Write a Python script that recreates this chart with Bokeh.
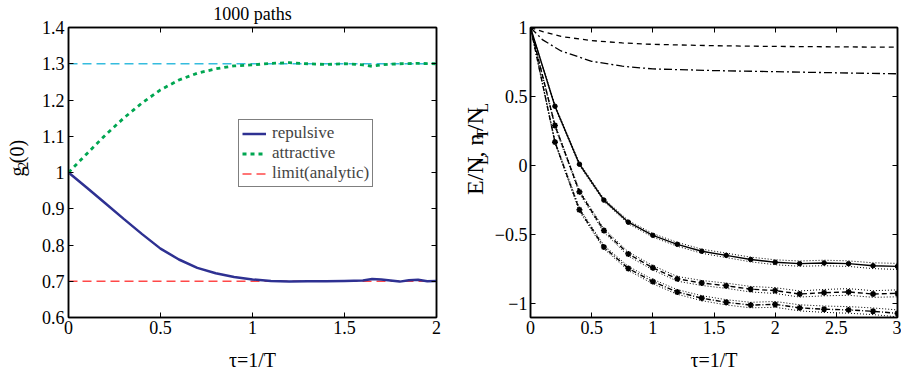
import math
from bokeh.plotting import figure
from bokeh.layouts import row
from bokeh.core.properties import value
from bokeh.models import (Range1d, FixedTicker, LinearAxis, Legend,
                          LegendItem, CustomJSTickFormatter)
from bokeh.embed import file_html
from bokeh.resources import INLINE

FONT = "Liberation Serif"
H = 370

# ---------------- left panel data ----------------
rep_x = [0, 0.1, 0.2, 0.3, 0.4, 0.5, 0.6, 0.7, 0.8, 0.9, 1.0, 1.1, 1.2, 1.3,
         1.4, 1.5, 1.6, 1.65, 1.7, 1.75, 1.8, 1.85, 1.9, 1.95, 2.0]
rep_y = [1.0, 0.958, 0.915, 0.872, 0.830, 0.790, 0.760, 0.737, 0.722, 0.712,
         0.705, 0.701, 0.699, 0.700, 0.700, 0.701, 0.702, 0.706, 0.705, 0.702,
         0.699, 0.703, 0.704, 0.700, 0.701]
att_x = [0, 0.1, 0.2, 0.3, 0.4, 0.5, 0.6, 0.7, 0.8, 0.9, 1.0, 1.1, 1.2, 1.3,
         1.4, 1.5, 1.6, 1.65, 1.7, 1.8, 1.9, 2.0]
att_y = [1.0, 1.052, 1.103, 1.150, 1.192, 1.228, 1.255, 1.274, 1.286, 1.294,
         1.297, 1.301, 1.303, 1.300, 1.298, 1.300, 1.297, 1.293, 1.297, 1.300,
         1.301, 1.300]
lim_x = [0, 2]
lim_att = [1.3, 1.3]
lim_rep = [0.7, 0.7]

left_xticks = [0, 0.5, 1, 1.5, 2]
left_xlabels = ["0", "0.5", "1", "1.5", "2"]
left_yticks = [0.6, 0.7, 0.8, 0.9, 1.0, 1.1, 1.2, 1.3, 1.4]
left_ylabels = ["0.6", "0.7", "0.8", "0.9", "1", "1.1", "1.2", "1.3", "1.4"]

# ---------------- right panel data ----------------
tau = [0, 0.2, 0.4, 0.6, 0.8, 1.0, 1.2, 1.4, 1.6, 1.8, 2.0, 2.2, 2.4, 2.6, 2.8, 3.0]
e_solid = [1.0, 0.43, 0.01, -0.25, -0.41, -0.505, -0.57, -0.62, -0.65, -0.68,
           -0.70, -0.71, -0.705, -0.71, -0.725, -0.73]
e_solid_err = [0, 0.008, 0.01, 0.01, 0.012, 0.013, 0.014, 0.015, 0.016, 0.017,
               0.018, 0.019, 0.02, 0.02, 0.021, 0.022]
e_mid = [1.0, 0.29, -0.19, -0.47, -0.64, -0.74, -0.82, -0.85, -0.87, -0.895,
         -0.905, -0.93, -0.92, -0.915, -0.93, -0.925]
e_mid_err = [0, 0.01, 0.012, 0.013, 0.015, 0.016, 0.017, 0.018, 0.019, 0.02,
             0.021, 0.022, 0.023, 0.024, 0.024, 0.025]
e_low = [1.0, 0.17, -0.32, -0.59, -0.745, -0.84, -0.915, -0.96, -0.99, -1.01,
         -1.005, -1.03, -1.04, -1.045, -1.055, -1.07]
e_low_err = [0, 0.01, 0.012, 0.013, 0.015, 0.016, 0.017, 0.018, 0.019, 0.02,
             0.021, 0.022, 0.023, 0.024, 0.024, 0.025]

n_x = [0, 0.1, 0.25, 0.5, 0.75, 1.0, 1.5, 2.0, 2.5, 3.0]
n_dash = [1.0, 0.97, 0.935, 0.905, 0.888, 0.878, 0.868, 0.863, 0.86, 0.857]
n_dashdot = [1.0, 0.91, 0.83, 0.755, 0.72, 0.70, 0.688, 0.68, 0.672, 0.665]

right_xticks = [0, 0.5, 1, 1.5, 2, 2.5, 3]
right_xlabels = ["0", "0.5", "1", "1.5", "2", "2.5", "3"]
right_yticks = [-1, -0.5, 0, 0.5, 1]
right_ylabels = ["\u22121", "\u22120.5", "0", "0.5", "1"]

# Times-like advance widths (em) used to set the label pieces side by side
ADV = {"E": 0.611, "/": 0.278, "N": 0.722, "L": 0.611, ",": 0.25, " ": 0.25,
       "n": 0.5, "T": 0.611, "g": 0.5, "2": 0.5, "(": 0.333, "0": 0.5, ")": 0.333}


def blank_axis(ticks, label=None):
    ax = LinearAxis(ticker=FixedTicker(ticks=ticks),
                    formatter=CustomJSTickFormatter(code="return ''"),
                    major_tick_in=5, major_tick_out=0, minor_tick_line_color=None,
                    major_label_standoff=0, major_label_text_color=None,
                    major_label_text_font_size="1px", axis_line_width=1.5)
    if label:
        ax.axis_label = label
        ax.axis_label_text_font = FONT
        ax.axis_label_text_font_style = "normal"
        ax.axis_label_text_font_size = "18px"
        ax.axis_label_text_color = "black"
        ax.axis_label_standoff = 4
    return ax


def make_panel(xr, yr, xt, xl, yt, yl, border_left, border_right, ystand, title=None):
    p = figure(frame_width=xr[2], frame_height=290, output_backend="svg",
               toolbar_location=None, x_range=Range1d(xr[0], xr[1]),
               y_range=Range1d(yr[0], yr[1]),
               min_border_left=border_left, min_border_right=border_right,
               min_border_top=26, min_border_bottom=H - 26 - 290)
    p.outline_line_color = "black"
    p.outline_line_width = 1.5
    p.xgrid.visible = False
    p.ygrid.visible = False
    bx = p.xaxis[0]
    by = p.yaxis[0]
    for ax in (bx, by):
        ax.major_tick_in = 5
        ax.major_tick_out = 0
        ax.minor_tick_line_color = None
        ax.axis_line_width = 1.5
        ax.major_tick_line_width = 1
        ax.major_label_text_font = FONT
        ax.major_label_text_font_size = "18px"
        ax.major_label_text_color = "black"
    bx.ticker = FixedTicker(ticks=xt)
    bx.major_label_overrides = dict(zip(xt, xl))
    bx.major_label_standoff = 3
    by.ticker = FixedTicker(ticks=yt)
    by.major_label_overrides = dict(zip(yt, yl))
    by.major_label_standoff = ystand
    bx.axis_label = "\u03c4=1/T"
    bx.axis_label_text_font = FONT
    bx.axis_label_text_font_style = "normal"
    bx.axis_label_text_font_size = "20px"
    bx.axis_label_text_color = "black"
    bx.axis_label_standoff = 12
    p.add_layout(blank_axis(xt, title), "above")
    p.add_layout(blank_axis(yt), "right")
    return p


def label_strip(width, pieces, center_x, start_y):
    # pieces: (text, font px, shift below baseline px); text reads upwards
    f = figure(width=width, height=H, x_range=Range1d(0, width), y_range=Range1d(0, H),
               x_axis_type=None, y_axis_type=None, output_backend="svg",
               toolbar_location=None, min_border=0)
    f.outline_line_color = None
    pos = start_y
    for txt, size, shift in pieces:
        f.text(x=[center_x + shift], y=[pos], text=[txt], angle=math.pi / 2,
               text_font=value(FONT), text_font_size=value(f"{size}px"),
               text_align="left", text_baseline="middle", text_color="black")
        pos += sum(ADV[c] for c in txt) * size
    return f


# ---------------- left figure ----------------
p1 = make_panel((0, 2, 368), (0.6, 1.4), left_xticks, left_xlabels,
                left_yticks, left_ylabels, 30, 10, 4, title="1000 paths")

p1.line(lim_x, lim_att, line_color="#35BCDE", line_width=1.5, line_dash="9 5")
r_lim = p1.line(lim_x, lim_rep, line_color="#FF4848", line_width=1.5, line_dash="9 5")
r_rep = p1.line(rep_x, rep_y, line_color="#2E3192", line_width=2.5)
r_att = p1.line(att_x, att_y, line_color="#00A651", line_width=2.8, line_dash="4 4")

legend = Legend(items=[LegendItem(label="repulsive", renderers=[r_rep]),
                       LegendItem(label="attractive", renderers=[r_att]),
                       LegendItem(label="limit(analytic)", renderers=[r_lim])],
                location=(170, 130), margin=0, padding=3, spacing=0,
                label_text_font=FONT, label_text_font_size="17px",
                label_text_line_height=0.9,
                label_height=17, glyph_height=17, glyph_width=24, label_standoff=6,
                border_line_color="black", border_line_width=1.5,
                background_fill_color="white", background_fill_alpha=1)
p1.add_layout(legend)

lab1 = label_strip(38, [("g", 20, 0), ("2", 14, 6), ("(0)", 20, 0)], 16.5, H - 192)

# ---------------- right figure ----------------
p2 = make_panel((0, 3, 367), (-1.1, 1.0), right_xticks, right_xlabels,
                right_yticks, right_ylabels, 40, 4, 3)

p2.line(n_x, n_dash, line_color="black", line_width=1.3, line_dash="5 4")
p2.line(n_x, n_dashdot, line_color="black", line_width=1.3, line_dash="8 3 2 3")

for yv, err, dash, mk in [(e_solid, e_solid_err, "solid", "circle"),
                          (e_mid, e_mid_err, "5 3", "asterisk"),
                          (e_low, e_low_err, "5 2 1 2", "asterisk")]:
    up = [a + b for a, b in zip(yv, err)]
    lo = [a - b for a, b in zip(yv, err)]
    p2.line(tau, up, line_color="black", line_width=1, line_dash="1 2")
    p2.line(tau, lo, line_color="black", line_width=1, line_dash="1 2")
    p2.line(tau, yv, line_color="black", line_width=1.4, line_dash=dash)
    if mk == "circle":
        p2.scatter(tau, yv, marker="circle", size=4.5, color="black")
    else:
        p2.scatter(tau, yv, marker="asterisk", size=6, line_color="black", line_width=1.6)

lab2 = label_strip(44, [("E/N", 24, 0), ("L", 16, 8), (", n", 24, 0), ("T", 16, 8),
                        ("/N", 24, 0), ("L", 16, 8)], 28, H - 216)

layout = row(lab1, p1, lab2, p2)
open("out.html", "w").write(file_html(layout, INLINE))
